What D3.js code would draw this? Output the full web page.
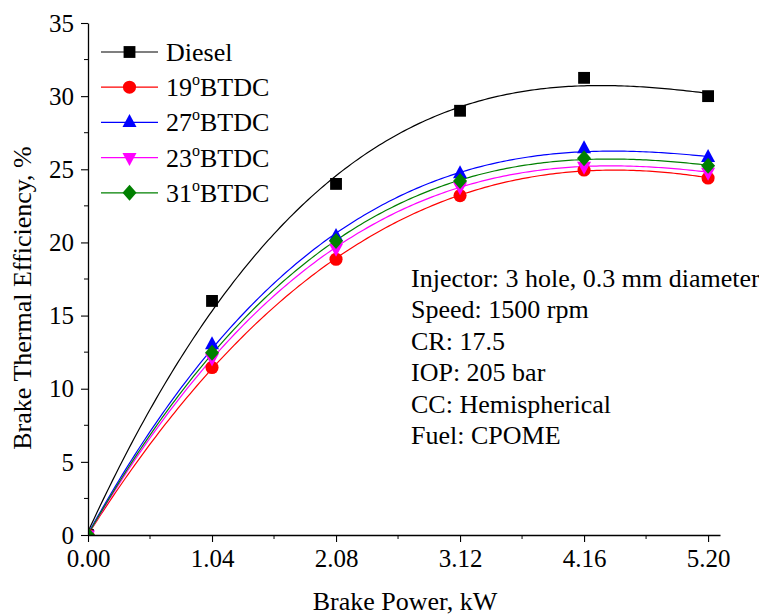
<!DOCTYPE html>
<html><head><meta charset="utf-8">
<script src="https://cdn.jsdelivr.net/npm/d3@7"></script>
<style>body{margin:0;background:#fff}svg{display:block;font-family:"Liberation Serif","Times New Roman",serif}</style>
</head><body>
<svg id="c" width="759" height="615"></svg>
<script>
const power = [0, 1.04, 2.08, 3.12, 4.16, 5.20];
const xTicks = [0, 1.04, 2.08, 3.12, 4.16, 5.20];
const yTicks = [0, 5, 10, 15, 20, 25, 30, 35];
const seriesNames = ["Diesel", "19", "27", "23", "31"];
const diesel = [0, 16.0, 24.0, 29.0, 31.25, 30.0];
const btdc19 = [0, 11.45, 18.85, 23.2, 24.95, 24.4];
const btdc27 = [0, 13.0, 20.4, 24.7, 26.4, 25.8];
const btdc23 = [0, 12.1, 19.6, 23.8, 25.2, 24.8];
const btdc31 = [0, 12.45, 20.1, 24.2, 25.75, 25.25];
const colors = ["#000000", "#ff0000", "#0000ff", "#ff00ff", "#008000"];
const symbols = ["square", "circle", "up", "down", "diamond"];
const notes = ["Injector: 3 hole, 0.3 mm diameter", "Speed: 1500 rpm", "CR: 17.5", "IOP: 205 bar", "CC: Hemispherical", "Fuel: CPOME"];
const allSeries = [diesel, btdc19, btdc27, btdc23, btdc31];

const FS = 26;
const svg = d3.select("#c");
const x = d3.scaleLinear().domain([0, 5.3]).range([88, 720]);
const y = d3.scaleLinear().domain([0, 35]).range([535, 23]);

// polynomial least squares fit
function polyfit(xs, ys, deg) {
  const n = deg + 1;
  const A = Array.from({length: n}, () => new Array(n + 1).fill(0));
  for (let i = 0; i < xs.length; i++) {
    for (let r = 0; r < n; r++) {
      for (let c = 0; c < n; c++) A[r][c] += Math.pow(xs[i], r + c);
      A[r][n] += ys[i] * Math.pow(xs[i], r);
    }
  }
  for (let p = 0; p < n; p++) {
    let mx = p;
    for (let r = p + 1; r < n; r++) if (Math.abs(A[r][p]) > Math.abs(A[mx][p])) mx = r;
    [A[p], A[mx]] = [A[mx], A[p]];
    for (let r = 0; r < n; r++) {
      if (r === p) continue;
      const f = A[r][p] / A[p][p];
      for (let c = p; c <= n; c++) A[r][c] -= f * A[p][c];
    }
  }
  return A.map((row, i) => row[n] / row[i]);
}

svg.append("defs").append("clipPath").attr("id", "clip")
  .append("rect").attr("x", x(0)).attr("y", y(35)).attr("width", x(5.3) - x(0)).attr("height", y(0) - y(35));

const plot = svg.append("g").attr("clip-path", "url(#clip)");
const line = d3.line().x(d => x(d[0])).y(d => y(d[1]));

allSeries.forEach((vals, i) => {
  const coef = polyfit(power, vals, 3);
  const pts = d3.range(0, 201).map(k => {
    const xv = 5.2 * k / 200;
    return [xv, coef.reduce((s, c, j) => s + c * Math.pow(xv, j), 0)];
  });
  plot.append("path").attr("d", line(pts)).attr("fill", "none")
    .attr("stroke", colors[i]).attr("stroke-width", 1.2);
});

function markerPath(i) {
  const s = symbols[i];
  if (s === "square") return d3.symbol(d3.symbolSquare, 140)();
  if (s === "circle") return d3.symbol(d3.symbolCircle, 135)();
  if (s === "up") return "M0,-8.5L7,4.5L-7,4.5Z";
  if (s === "down") return "M0,8.5L7,-4.5L-7,-4.5Z";
  return "M0,-8L7,0L0,8L-7,0Z";
}
allSeries.forEach((vals, i) => {
  plot.selectAll(null).data(vals.map((v, k) => [power[k], v])).enter()
    .append("path").attr("d", markerPath(i))
    .attr("transform", d => `translate(${x(d[0])},${y(d[1])})`)
    .attr("fill", colors[i]);
});

// axes
const xAxis = svg.append("g").attr("transform", `translate(0,${y(0)})`)
  .call(d3.axisBottom(x).tickValues(xTicks).tickFormat(d3.format(".2f")).tickSize(7).tickSizeOuter(0));
xAxis.append("g").selectAll("line").data([0.52, 1.56, 2.60, 3.64, 4.68]).enter()
  .append("line").attr("x1", d => x(d)).attr("x2", d => x(d)).attr("y1", 0).attr("y2", 4).attr("stroke", "#000");
const yAxis = svg.append("g").attr("transform", `translate(${x(0)},0)`)
  .call(d3.axisLeft(y).tickValues(yTicks).tickSize(7).tickSizeOuter(0));
yAxis.append("g").selectAll("line").data(d3.range(2.5, 35, 5)).enter()
  .append("line").attr("y1", d => y(d)).attr("y2", d => y(d)).attr("x1", 0).attr("x2", -4).attr("stroke", "#000");
[xAxis, yAxis].forEach(a => {
  a.selectAll(".domain").attr("stroke", "#000").attr("stroke-width", 1.3);
  a.selectAll(".tick line").attr("stroke", "#000").attr("stroke-width", 1.1);
  a.selectAll("text").attr("font-family", '"Liberation Serif", serif').attr("font-size", FS - 1).attr("fill", "#000");
});
xAxis.selectAll(".tick text").attr("dy", null).attr("y", 32);
yAxis.selectAll(".tick text").attr("x", -14).attr("dy", "0.33em");

svg.append("text").attr("x", 405).attr("y", 610).attr("text-anchor", "middle")
  .attr("font-size", FS).text("Brake Power, kW");
svg.append("text").attr("transform", "translate(31,298) rotate(-90)").attr("text-anchor", "middle")
  .attr("font-size", FS).text("Brake Thermal Efficiency, %");

// legend
const lg = svg.append("g");
seriesNames.forEach((nm, i) => {
  const yy = 52 + i * 35.2;
  lg.append("line").attr("x1", 101).attr("x2", 158).attr("y1", yy).attr("y2", yy)
    .attr("stroke", colors[i]).attr("stroke-width", 1.2);
  lg.append("path").attr("d", markerPath(i))
    .attr("transform", `translate(129.5,${yy})`)
    .attr("fill", colors[i]);
  const t = lg.append("text").attr("x", 166).attr("y", yy + 9).attr("font-size", FS);
  if (i === 0) t.text(nm);
  else {
    t.append("tspan").text(nm);
    t.append("tspan").attr("font-size", 16).attr("dy", -11).text("o");
    t.append("tspan").attr("dy", 11).text("BTDC");
  }
});

// notes
svg.append("g").selectAll("text").data(notes).enter().append("text")
  .attr("x", 411).attr("y", (d, i) => 287 + i * 31.4).attr("font-size", FS).text(d => d);
</script>
</body></html>
